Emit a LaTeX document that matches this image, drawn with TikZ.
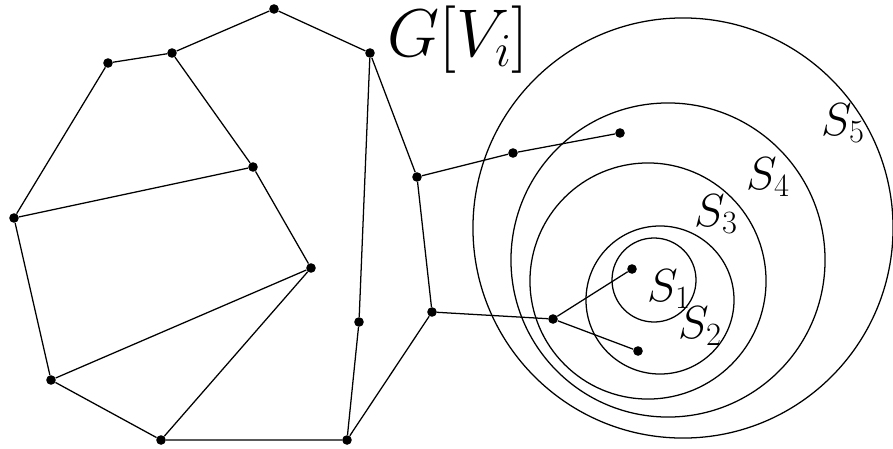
\RequirePackage{fix-cm}
\documentclass[tikz,border=0pt]{standalone}
\usepackage{amsmath}
\usepackage{tikz}
\usetikzlibrary{positioning}

\begin{document}
\begin{tikzpicture}[
        x=0.025cm,y=-0.025cm,
        vertex/.style={circle,fill=black,inner sep=0pt,minimum size=0.24cm},
        edge/.style={line width=0.9pt},
        ring/.style={line width=0.9pt},
        lab/.style={inner sep=0pt,font=\fontsize{33}{37}\selectfont},
      ]
      \useasboundingbox (0,0) rectangle (893,448);

      % vertices
      \node[vertex] (a) at (274,9) {};
      \node[vertex] (b) at (172,53) {};
      \node[vertex] (c) at (108,63) {};
      \node[vertex] (d) at (370,53) {};
      \node[vertex] (e) at (14,218) {};
      \node[vertex] (f) at (253,167) {};
      \node[vertex] (g) at (311,268) {};
      \node[vertex] (h) at (417,177) {};
      \node[vertex] (i) at (513,153) {};
      \node[vertex] (j) at (620,133) {};
      \node[vertex] (k) at (432,312) {};
      \node[vertex] (l) at (553,319) {};
      \node[vertex] (m) at (632,269) {};
      \node[vertex] (n) at (638,351) {};
      \node[vertex] (o) at (359,322) {};
      \node[vertex] (p) at (51,380) {};
      \node[vertex] (q) at (161,440) {};
      \node[vertex] (r) at (347,440) {};

      % edges
      \draw[edge] (c) -- (b) -- (a) -- (d);
      \draw[edge] (c) -- (e) -- (p) -- (q) -- (r);
      \draw[edge] (b) -- (f) -- (g);
      \draw[edge] (e) -- (f);
      \draw[edge] (p) -- (g) -- (q);
      \draw[edge] (d) -- (o) -- (r);
      \draw[edge] (d) -- (h) -- (k) -- (r);
      \draw[edge] (h) -- (i) -- (j);
      \draw[edge] (k) -- (l);
      \draw[edge] (l) -- (m);
      \draw[edge] (l) -- (n);

      % nested sets
      \draw[ring] (654,280) circle[radius=1.05cm];
      \draw[ring] (660,300) circle[radius=1.85cm];
      \draw[ring] (648,281) circle[radius=2.95cm];
      \draw[ring] (668,260) circle[radius=3.925cm];
      \draw[ring] (683,228) circle[radius=5.25cm];

      \node[lab] (s1) at (669,289) {$S_1$};
      \node[lab] (s2) at (700,326) {$S_2$};
      \node[lab] (s3) at (716,214) {$S_3$};
      \node[lab] (s4) at (768,177) {$S_4$};
      \node[lab] (s5) at (843,123) {$S_5$};
      \node[inner sep=0pt,font=\fontsize{48}{52}\selectfont] (title) at (458,40) {$G[V_i]$};
    \end{tikzpicture}
\end{document}
